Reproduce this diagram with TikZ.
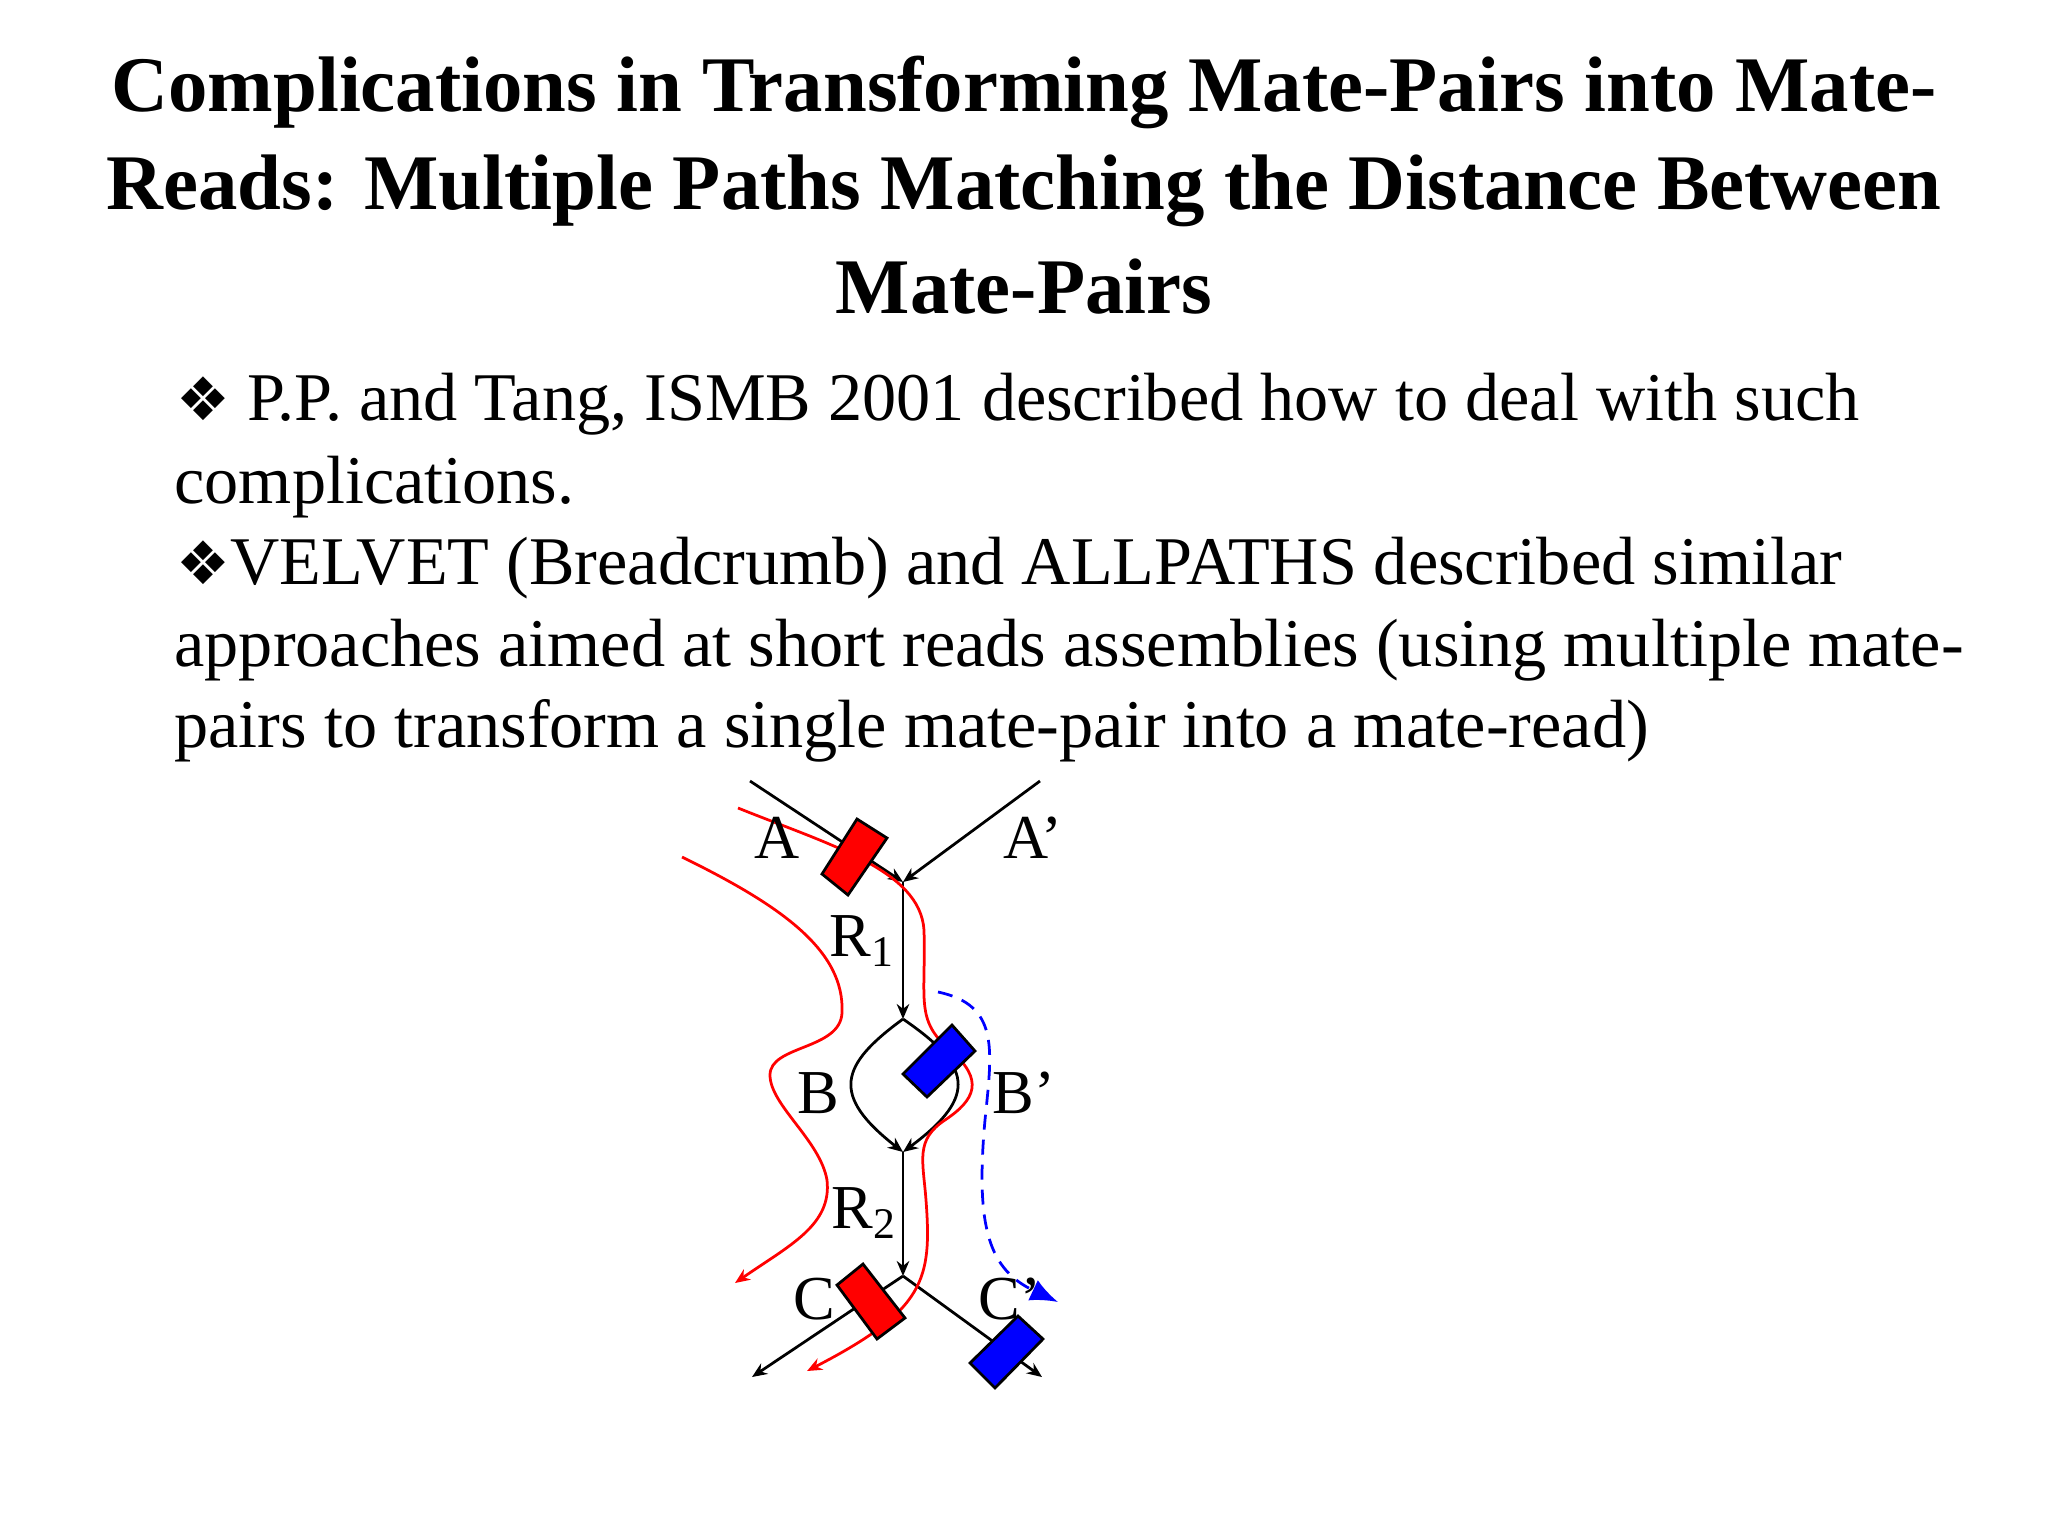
\documentclass[tikz,border=0pt]{standalone}
\usepackage{fontspec}
\setmainfont{Liberation Serif}
\newfontfamily\symf{DejaVu Sans}
\usetikzlibrary{arrows.meta}
\begin{document}
\begin{tikzpicture}[x=0.4pt,y=-0.4pt,
  conn/.style={line width=1.1pt,-{Stealth[length=6pt,width=5pt]}},
  redp/.style={red,line width=1.1pt,-{Stealth[length=6pt,width=5pt]}},
  rbox/.style={draw=black,line width=1.1pt,fill=red},
  bbox/.style={draw=black,line width=1.1pt,fill=blue},
  ttl/.style={font=\fontsize{31.5}{36}\selectfont\bfseries,anchor=base},
  body/.style={font=\fontsize{27.3}{32}\selectfont,anchor=base west,inner sep=0pt},
  lbl/.style={font=\fontsize{25}{30}\selectfont,inner sep=0pt}]
\useasboundingbox (0,0) rectangle (2048,1536);
% title
\node[ttl] (t1) at (1024,111) {Complications in Transforming Mate-Pairs into Mate-};
\node[ttl] (t2) at (1024,209) {Reads: Multiple Paths Matching the Distance Between};
\node[ttl] (t3) at (1024,313) {Mate-Pairs};
% body
\node[body] (b1) at (176,420) {{\symf\fontsize{24}{28}\selectfont ❖} P.P. and Tang, ISMB 2001 described how to deal with such};
\node[body] (b2) at (174,503) {complications.};
\node[body] (b3) at (176,584) {{\symf\fontsize{24}{28}\selectfont ❖}VELVET (Breadcrumb) and ALLPATHS described similar};
\node[body] (b4) at (174,666) {approaches aimed at short reads assemblies (using multiple mate-};
\node[body] (b5) at (174,747) {pairs to transform a single mate-pair into a mate-read)};
% graph points
\coordinate (a0) at (750,781);
\coordinate (ap0) at (1040,781);
\coordinate (j1) at (903,882);
\coordinate (j2) at (903,1019);
\coordinate (j3) at (903,1152);
\coordinate (j4) at (903,1276);
\coordinate (c0) at (752,1377);
\coordinate (cp0) at (1042,1377);
% black edges
\draw[conn] (a0) -- (j1);
\draw[conn] (ap0) -- (j1);
\draw[conn] (j1) -- (j2);
\draw[conn] (j2) .. controls (840,1065) and (830,1095) .. (j3);
\draw[conn] (j2) .. controls (970,1065) and (980,1095) .. (j3);
\draw[conn] (j3) -- (j4);
\draw[conn] (j4) -- (c0);
\draw[conn] (j4) -- (cp0);
% red paths
\coordinate (r1s) at (682,857);
\coordinate (r1e) at (735,1283);
\draw[redp] (r1s) .. controls (780,905) and (845,950) .. (842,1013)
  .. controls (840,1050) and (770,1045) .. (770,1075)
  .. controls (770,1105) and (820,1140) .. (827,1180)
  .. controls (832,1225) and (790,1245) .. (r1e);
\coordinate (r2s) at (738,808);
\coordinate (r2e) at (807,1371);
\draw[redp] (r2s) .. controls (830,845) and (920,870) .. (924,930)
  .. controls (926,1000) and (915,1020) .. (950,1050)
  .. controls (985,1080) and (975,1100) .. (945,1120)
  .. controls (915,1140) and (923,1160) .. (926,1200)
  .. controls (932,1280) and (925,1310) .. (r2e);
% blue dashed
\coordinate (bs) at (938,992);
\coordinate (be) at (1058,1302);
\draw[blue,line width=1.1pt,dash pattern=on 6pt off 4pt,-{Latex[length=11pt,width=9pt]}] (bs)
  .. controls (1000,1005) and (992,1050) .. (985,1120)
  .. controls (975,1230) and (990,1270) .. (be);
% boxes
\draw[rbox] (857,819) -- (887,838) -- (848,895) -- (822,874) -- cycle;
\draw[bbox] (952,1025) -- (975,1051) -- (927,1097) -- (903,1074) -- cycle;
\draw[rbox] (863,1264) -- (905,1318) -- (877,1339) -- (837,1285) -- cycle;
\draw[bbox] (1018,1316) -- (1043,1339) -- (995,1388) -- (970,1363) -- cycle;
% labels
\node[lbl] (la) at (777,838) {A};
\node[lbl] (lap) at (1033,838) {A’};
\node[lbl] (lr1) at (862,941) {R\textsubscript{1}};
\node[lbl] (lb) at (818,1093) {B};
\node[lbl] (lbp) at (1024,1093) {B’};
\node[lbl] (lr2) at (864,1213) {R\textsubscript{2}};
\node[lbl] (lc) at (814,1299) {C};
\node[lbl] (lcp) at (1010,1299) {C’};
\end{tikzpicture}
\end{document}
